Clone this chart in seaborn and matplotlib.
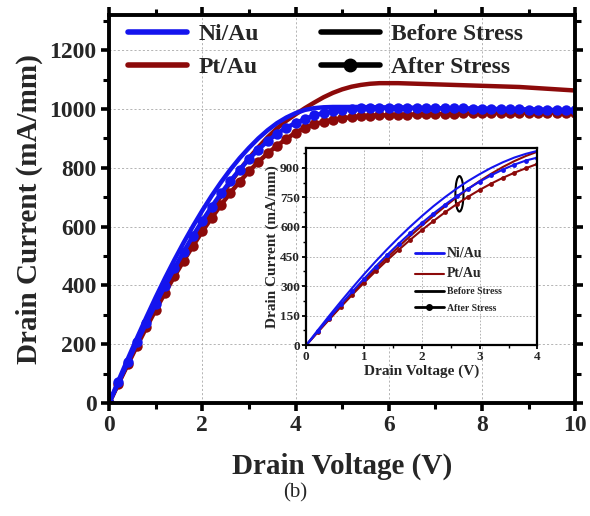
import matplotlib
matplotlib.use("Agg")
import matplotlib.pyplot as plt
import seaborn as sns
import pandas as pd
from matplotlib.lines import Line2D
from matplotlib.patches import Ellipse
from matplotlib.ticker import MultipleLocator

# ---------------- data ----------------
voltage = [0.0, 0.2, 0.4, 0.6, 0.8, 1.0, 1.2, 1.4, 1.6, 1.8,
           2.0, 2.2, 2.4, 2.6, 2.8, 3.0, 3.2, 3.4, 3.6, 3.8,
           4.0, 4.2, 4.4, 4.6, 4.8, 5.0, 5.2, 5.4, 5.6, 5.8,
           6.0, 6.2, 6.4, 6.6, 6.8, 7.0, 7.2, 7.4, 7.6, 7.8,
           8.0, 8.2, 8.4, 8.6, 8.8, 9.0, 9.2, 9.4, 9.6, 9.8, 10.0]

ni_before = [0, 76, 150, 222, 292, 360, 425, 487, 546, 602,
             655, 705, 751, 794, 833, 868, 900, 928, 952, 971,
             986, 997, 1003, 1006, 1007, 1007, 1007, 1007, 1006, 1006,
             1005, 1005, 1004, 1004, 1003, 1003, 1002, 1002, 1001, 1001,
             1000, 1000, 999, 999, 998, 998, 997, 996, 995, 994, 993]

ni_after = [0, 70, 139, 207, 273, 337, 399, 458, 515, 569,
            620, 668, 713, 755, 794, 830, 862, 891, 916, 937,
            952, 966, 978, 987, 994, 998, 1001, 1003, 1004, 1004,
            1004, 1004, 1004, 1003, 1003, 1003, 1002, 1002, 1002, 1001,
            1001, 1000, 1000, 999, 999, 998, 998, 997, 997, 996, 996]

pt_before = [0, 68, 135, 200, 264, 326, 386, 444, 500, 554,
             606, 656, 704, 750, 793, 833, 870, 904, 934, 960,
             982, 1003, 1022, 1040, 1055, 1067, 1076, 1082, 1086, 1088,
             1088, 1088, 1087, 1086, 1085, 1084, 1083, 1082, 1081, 1080,
             1079, 1078, 1077, 1076, 1075, 1073, 1071, 1069, 1067, 1065, 1063]

pt_after = [0, 66, 131, 195, 257, 317, 375, 431, 484, 535,
            584, 630, 674, 715, 753, 788, 820, 849, 875, 898,
            920, 936, 948, 957, 964, 969, 972, 975, 977, 978,
            979, 980, 981, 982, 983, 983, 984, 984, 985, 985,
            986, 986, 986, 987, 987, 987, 987, 988, 988, 988, 988]

inset_vmax = 4.0
legend_metals = ["Ni/Au", "Pt/Au"]
legend_stress = ["Before Stress", "After Stress"]

BLUE = "#1414ee"
RED = "#8c0a0a"

df = pd.DataFrame({"V": voltage, "ni_b": ni_before, "ni_a": ni_after,
                   "pt_b": pt_before, "pt_a": pt_after})
dfi = df[df["V"] <= inset_vmax]

sns.set_theme(style="ticks")
plt.rcParams["font.family"] = ["Liberation Serif", "DejaVu Serif"]
plt.rcParams["font.weight"] = "bold"
plt.rcParams["axes.labelweight"] = "bold"

fig = plt.figure(figsize=(5.9, 5.16), dpi=100)
ax = fig.add_axes([0.185, 0.219, 0.790, 0.752])

series = [("pt_a", RED, True), ("pt_b", RED, False),
          ("ni_a", BLUE, True), ("ni_b", BLUE, False)]

for col, c, mk in series:
    kw = dict(marker="o", markersize=7.5, markeredgewidth=0) if mk else {}
    sns.lineplot(data=df, x="V", y=col, ax=ax, color=c, linewidth=3.2,
                 legend=False, sort=False, **kw)

ax.set_xlim(0, 10)
ax.set_ylim(0, 1320)
ax.xaxis.set_major_locator(MultipleLocator(2))
ax.xaxis.set_minor_locator(MultipleLocator(1))
ax.yaxis.set_major_locator(MultipleLocator(200))
ax.yaxis.set_minor_locator(MultipleLocator(100))
ax.grid(True, which="major", color="#a8a8a8", linestyle=(0, (2.5, 2.5)), linewidth=0.6)
ax.set_axisbelow(True)
for s in ax.spines.values():
    s.set_linewidth(2.8)
    s.set_color("black")
ax.tick_params(which="major", direction="out", length=6, width=2.6,
               labelsize=17, pad=3, top=True, right=True, color="black")
ax.tick_params(which="minor", direction="out", length=4, width=2.2,
               top=True, right=True, color="black")
for lab in ax.get_xticklabels() + ax.get_yticklabels():
    lab.set_fontweight("bold")
ax.set_xlabel("Drain Voltage (V)", fontsize=21, fontweight="bold", labelpad=12)
ax.set_ylabel("Drain Current (mA/mm)", fontsize=21, fontweight="bold", labelpad=5)

handles = [Line2D([], [], color=BLUE, lw=4),
           Line2D([], [], color=RED, lw=4),
           Line2D([], [], color="black", lw=4),
           Line2D([], [], color="black", lw=4, marker="o", markersize=9)]
labels = [legend_metals[0], legend_metals[1], legend_stress[0], legend_stress[1]]
leg = ax.legend(handles, labels, ncol=2, loc="upper left",
                bbox_to_anchor=(0.04, 0.977), frameon=False,
                prop={"family": ["Liberation Serif"], "weight": "bold", "size": 17},
                handlelength=2.5, handletextpad=0.5, columnspacing=2.6,
                labelspacing=0.47, borderpad=0, borderaxespad=0)

# ---------------- inset ----------------
axi = fig.add_axes([0.519, 0.331, 0.392, 0.382])
axi.set_facecolor("white")
for col, c, mk in series:
    kw = dict(marker="o", markersize=3.5, markeredgewidth=0) if mk else {}
    sns.lineplot(data=dfi, x="V", y=col, ax=axi, color=c, linewidth=1.5,
                 legend=False, sort=False, **kw)
axi.set_xlim(0, 4)
axi.set_ylim(0, 1000)
axi.xaxis.set_major_locator(MultipleLocator(1))
axi.xaxis.set_minor_locator(MultipleLocator(0.5))
axi.yaxis.set_major_locator(MultipleLocator(150))
axi.yaxis.set_minor_locator(MultipleLocator(75))
axi.grid(True, which="major", color="#a8a8a8", linestyle=(0, (2, 2)), linewidth=0.6)
axi.set_axisbelow(True)
for s in axi.spines.values():
    s.set_linewidth(1.6)
    s.set_color("black")
axi.tick_params(which="major", direction="out", length=3, width=1.3,
                labelsize=9.5, pad=1.5, color="black")
axi.tick_params(which="minor", direction="out", length=2, width=1.0, color="black")
for lab in axi.get_xticklabels() + axi.get_yticklabels():
    lab.set_fontweight("bold")
axi.set_xlabel("Drain Voltage (V)", fontsize=11, fontweight="bold", labelpad=1)
axi.set_ylabel("Drain Current (mA/mm)", fontsize=11, fontweight="bold", labelpad=1)

axi.add_patch(Ellipse((2.65, 768), 0.14, 180, fill=False, edgecolor="black", linewidth=1.5))

hi = [Line2D([], [], color=BLUE, lw=2),
      Line2D([], [], color=RED, lw=1.5),
      Line2D([], [], color="black", lw=2),
      Line2D([], [], color="black", lw=2, marker="o", markersize=4)]
legi = axi.legend(hi, labels, loc="upper left", bbox_to_anchor=(0.47, 0.50),
                  frameon=False,
                  prop={"family": ["Liberation Serif"], "weight": "bold", "size": 7},
                  handlelength=3.0, handletextpad=0.3, labelspacing=0.75,
                  borderpad=0, borderaxespad=0)
for t in legi.get_texts()[:2]:
    t.set_fontsize(10)

fig.text(0.5, 0.045, "(b)", ha="center", va="center", fontsize=15,
         fontweight="normal", family=["Liberation Serif"])

fig.savefig("out.png", dpi=100, facecolor="white")
